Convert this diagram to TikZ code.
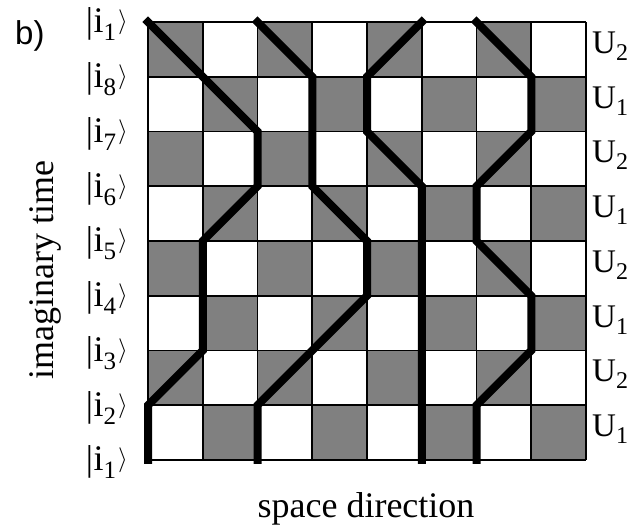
\documentclass[tikz,border=0pt]{standalone}
\usepackage{fontspec}
\setmainfont{Liberation Serif}
\newfontfamily\labsans{Liberation Sans}
\definecolor{cellgray}{gray}{0.5}
\newcommand{\statelab}[1]{|\hspace{0.5pt}i\raisebox{-8pt}{\fontsize{25}{25}\selectfont #1}\hspace{2pt}\raisebox{4pt}{\resizebox*{!}{25pt}{$\rangle$}}}
\newcommand{\oplab}[1]{U\raisebox{-7pt}{\fontsize{24}{24}\selectfont #1}}
\begin{document}
\begin{tikzpicture}[x=1pt,y=1pt,
  gridln/.style={line width=1.6pt},
  wline/.style={line width=8pt, line cap=rect, line join=miter, miter limit=10},
  slab/.style={font=\fontsize{36}{40}\selectfont, inner sep=0pt},
  ulab/.style={font=\fontsize{33}{38}\selectfont, inner sep=0pt},
  axlab/.style={font=\fontsize{36}{40}\selectfont, inner sep=0pt},
]
\useasboundingbox (0,0) rectangle (636,526);
\begin{scope}[shift={(148,66)}, x=54.75pt, y=54.75pt]
  % checkerboard
  \foreach \i in {0,...,7} {
    \foreach \j in {0,...,7} {
      \pgfmathtruncatemacro{\parity}{mod(\i+\j,2)}
      \ifnum\parity=1
        \fill[cellgray] (\i,\j) rectangle ++(1,1);
      \fi
    }
  }
  % grid
  \foreach \k in {0,...,8} {
    \draw[gridln] (\k,0) -- (\k,8);
    \draw[gridln] (0,\k) -- (8,\k);
  }
  % world lines
  \draw[wline] (0,0) -- (0,1) -- (1,2) -- (1,4) -- (2,5) -- (2,6) -- (0,8);
  \draw[wline] (2,0) -- (2,1) -- (4,3) -- (4,4) -- (3,5) -- (3,7) -- (2,8);
  \draw[wline] (5,0) -- (5,5) -- (4,6) -- (4,7) -- (5,8);
  \draw[wline] (6,0) -- (6,1) -- (7,2) -- (7,3) -- (6,4) -- (6,5) -- (7,6) -- (7,7) -- (6,8);
\end{scope}
% left state labels
\foreach \k/\n in {0/1,1/2,2/3,3/4,4/5,5/6,6/7,7/8,8/1} {
  \node[slab, anchor=base east] (st\k) at (128, {66+54.75*\k-11}) {\statelab{\n}};
}
% right operator labels
\foreach \j/\n in {0/1,1/2,2/1,3/2,4/1,5/2,6/1,7/2} {
  \node[ulab, anchor=base west] (op\j) at (592, {66+54.75*(\j+0.5)-4}) {\oplab{\n}};
}
\node[font=\labsans\fontsize{33}{38}\selectfont, inner sep=0pt, anchor=base west] (b) at (15,481) {b)};
\node[axlab, anchor=base] (sd) at (366,8) {space direction};
\node[axlab, anchor=base, rotate=90] (it) at (53,256) {imaginary time};
\end{tikzpicture}
\end{document}
